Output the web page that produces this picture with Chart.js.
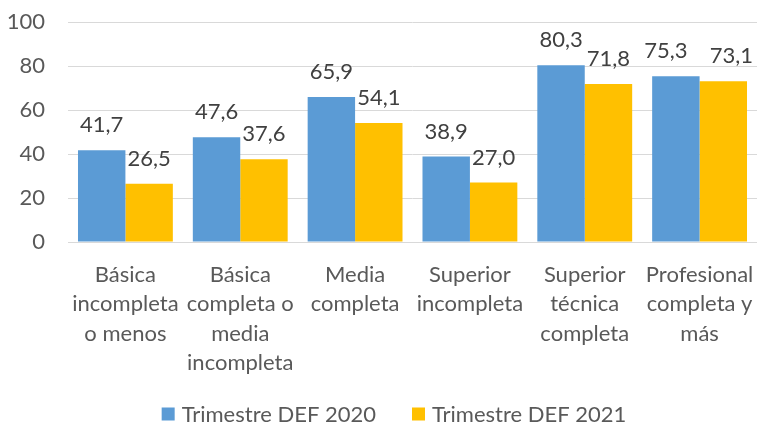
<!DOCTYPE html>
<html><head><meta charset="utf-8">
<script src="https://cdn.jsdelivr.net/npm/chart.js@4/dist/chart.umd.min.js"></script>
<style>html,body{margin:0;padding:0;background:#fff;}#wrap{width:757px;height:423px;}</style>
</head><body><div id="wrap"><canvas id="c" width="757" height="423"></canvas></div>
<script>
const categories = [
  ["Básica","incompleta","o menos"],
  ["Básica","completa o","media","incompleta"],
  ["Media","completa"],
  ["Superior","incompleta"],
  ["Superior","técnica","completa"],
  ["Profesional","completa y","más"]
];
const series2020 = [41.7, 47.6, 65.9, 38.9, 80.3, 75.3];
const series2021 = [26.5, 37.6, 54.1, 27.0, 71.8, 73.1];
const seriesNames = ["Trimestre DEF 2020", "Trimestre DEF 2021"];
const seriesColors = ["#5B9BD5", "#FFC000"];
const yTicks = [0, 20, 40, 60, 80, 100];

const FONT = "Lato, 'Liberation Sans', sans-serif";

const labelPlugin = {
  id: 'valueLabels',
  afterDatasetsDraw(chart) {
    const ctx = chart.ctx;
    ctx.save();
    ctx.font = "22px " + FONT;
    ctx.fillStyle = "#404040";
    ctx.textAlign = "center";
    ctx.textBaseline = "middle";
    const m0 = chart.getDatasetMeta(0), m1 = chart.getDatasetMeta(1);
    chart.data.labels.forEach((_, j) => {
      const a = m0.data[j], b = m1.data[j];
      let ax = a.x, bx = b.x;
      const ay = a.y - 25, by = b.y - 25;
      // avoid near-overlap of labels at similar heights
      if (Math.abs(ay - by) < 12) { ax -= 10; bx += 8; }
      ctx.fillText(chart.data.datasets[0].data[j].toFixed(1).replace('.', ','), ax, ay);
      ctx.fillText(chart.data.datasets[1].data[j].toFixed(1).replace('.', ','), bx, by);
    });
    ctx.restore();
  }
};

const legendPlugin = {
  id: 'customLegend',
  afterDraw(chart) {
    const ctx = chart.ctx;
    ctx.save();
    ctx.font = "22px " + FONT;
    ctx.textBaseline = "middle";
    ctx.textAlign = "left";
    const box = 13, gap = 7, spacing = 36, cy = 414, centerX = 394;
    const items = chart.data.datasets.map(ds => ({ label: ds.label, color: ds.backgroundColor, w: ctx.measureText(ds.label).width }));
    let total = 0;
    items.forEach((it, i) => { total += box + gap + it.w + (i < items.length - 1 ? spacing : 0); });
    let x = centerX - total / 2;
    items.forEach(it => {
      ctx.fillStyle = it.color;
      ctx.fillRect(x, cy - box / 2, box, box);
      ctx.fillStyle = "#595959";
      ctx.fillText(it.label, x + box + gap, cy + 1);
      x += box + gap + it.w + spacing;
    });
    ctx.restore();
  }
};

new Chart(document.getElementById('c'), {
  type: 'bar',
  data: {
    labels: categories,
    datasets: [
      { label: seriesNames[0], data: series2020, backgroundColor: seriesColors[0], categoryPercentage: 0.826, barPercentage: 1.0 },
      { label: seriesNames[1], data: series2021, backgroundColor: seriesColors[1], categoryPercentage: 0.826, barPercentage: 1.0 }
    ]
  },
  options: {
    responsive: false,
    animation: false,
    layout: { padding: { left: 0, right: 0, top: 22, bottom: 43 } },
    plugins: {
      legend: { display: false },
      tooltip: { enabled: false }
    },
    scales: {
      x: {
        grid: { display: false, drawTicks: false },
        border: { color: '#d9d9d9', width: 1 },
        ticks: { font: { size: 22, family: FONT, lineHeight: 1.34 }, color: '#595959', maxRotation: 0, autoSkip: false, padding: 18 },
        afterFit: (axis) => { axis.height = 138; axis.paddingLeft = 0; axis.paddingRight = 0; }
      },
      y: {
        min: 0, max: 100,
        afterBuildTicks: (axis) => { axis.ticks = yTicks.map(v => ({ value: v })); },
        grid: { color: '#d9d9d9', lineWidth: 1, drawTicks: false },
        border: { display: false },
        ticks: { font: { size: 22, family: FONT }, color: '#595959', padding: 23 },
        afterFit: (axis) => { axis.width = 68; axis.paddingTop = 0; axis.paddingBottom = 0; }
      }
    }
  },
  plugins: [labelPlugin, legendPlugin]
});
</script></body></html>
